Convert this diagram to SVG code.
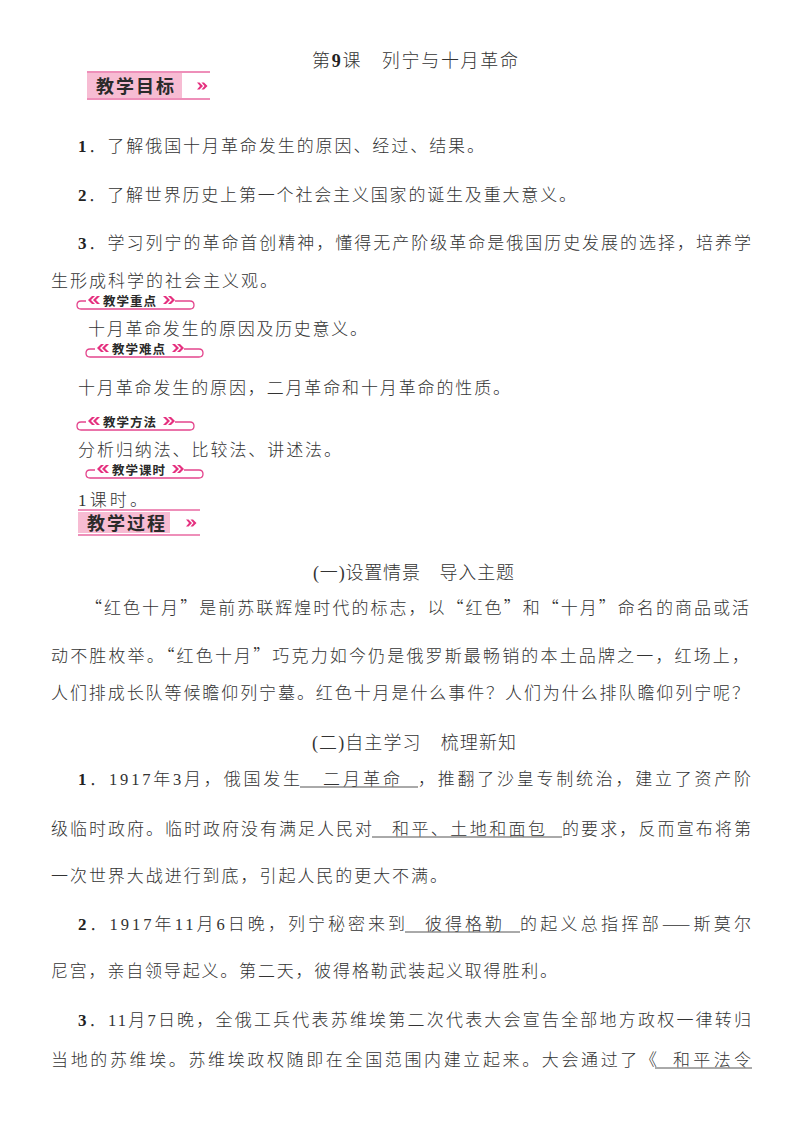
<svg xmlns="http://www.w3.org/2000/svg" xmlns:xlink="http://www.w3.org/1999/xlink" width="800" height="1133" viewBox="0 0 800 1133">
<style>
.t{font-family:"Noto Sans CJK SC","Noto Sans CJK JP",sans-serif;font-size:17px;fill:#333;font-weight:300}
.h{font-size:18px}
.n{font-family:"Liberation Serif",serif;font-size:16.5px}
.b{font-family:"Liberation Serif",serif;font-size:17px;font-weight:bold;fill:#222}
.bt{font-family:"Noto Sans CJK SC",sans-serif;font-weight:700;fill:#2a2a2a}
.big{font-size:18px;letter-spacing:2px}
.sm{font-size:12.5px;letter-spacing:1px}
.pk{fill:#f7bcd3}
.pl{stroke:#ee8fb9;stroke-width:1.8;fill:none}
.ar{fill:#e5307f}
.br{stroke:#e4468d;stroke-width:1.3;fill:none}
.ul{stroke:#555;stroke-width:1}
</style>
<defs>
<path id="chevL" d="M7 -4 L4 -4 L0 0 L4 4 L7 4 L3 0 Z M12 -4 L9 -4 L5 0 L9 4 L12 4 L8 0 Z"/>
<path id="chevR" d="M0 -4 L3 -4 L7 0 L3 4 L0 4 L4 0 Z M5 -4 L8 -4 L12 0 L8 4 L5 4 L9 0 Z"/>
<path id="chevS" d="M0 -3.5 L2.5 -3.5 L6 0 L2.5 3.5 L0 3.5 L3 0 Z M4.5 -3.5 L7 -3.5 L10.5 0 L7 3.5 L4.5 3.5 L7.5 0 Z"/>
<path id="brk" d="M8 1 L3 1 Q-1 1 -1 5 Q-1 9 3 9 L112 9 Q116 9 116 5 Q116 1 112 1 L97 1"/>
</defs>
<rect width="800" height="1133" fill="#fff"/>

<g id="title">
<text class="t h" x="312" y="67" textLength="206" lengthAdjust="spacing">第<tspan class="b" style="font-size:18px">9</tspan>课　列宁与十月革命</text>
</g>

<g id="badge-goal">
<rect class="pk" x="87" y="73" width="95" height="25"/>
<line class="pl" x1="87" y1="72" x2="210" y2="72"/>
<line class="pl" x1="87" y1="99" x2="210" y2="99"/>
<text class="bt big" x="96" y="93">教学目标</text>
<use xlink:href="#chevS" class="ar" x="197" y="86"/>
</g>

<g id="goals">
<text class="t" x="78" y="152" textLength="406" lengthAdjust="spacing"><tspan class="b">1</tspan>．了解俄国十月革命发生的原因、经过、结果。</text>
<text class="t" x="78" y="201" textLength="498" lengthAdjust="spacing"><tspan class="b">2</tspan>．了解世界历史上第一个社会主义国家的诞生及重大意义。</text>
<text class="t" x="78" y="249" textLength="673" lengthAdjust="spacing"><tspan class="b">3</tspan>．学习列宁的革命首创精神，懂得无产阶级革命是俄国历史发展的选择，培养学</text>
<text class="t" x="51" y="287" textLength="226" lengthAdjust="spacing">生形成科学的社会主义观。</text>
</g>

<g id="badge-key">
<use xlink:href="#brk" class="br" x="78" y="300"/>
<use xlink:href="#chevL" class="ar" x="88" y="300"/>
<text class="bt sm" x="103" y="306">教学重点</text>
<use xlink:href="#chevR" class="ar" x="163" y="300"/>
</g>
<text class="t" x="88" y="335" textLength="279" lengthAdjust="spacing">十月革命发生的原因及历史意义。</text>

<g id="badge-diff">
<use xlink:href="#brk" class="br" x="87" y="348"/>
<use xlink:href="#chevL" class="ar" x="97" y="348"/>
<text class="bt sm" x="112" y="353.5">教学难点</text>
<use xlink:href="#chevR" class="ar" x="172" y="348"/>
</g>
<text class="t" x="78" y="394" textLength="432" lengthAdjust="spacing">十月革命发生的原因，二月革命和十月革命的性质。</text>

<g id="badge-method">
<use xlink:href="#brk" class="br" x="78" y="421"/>
<use xlink:href="#chevL" class="ar" x="88" y="421"/>
<text class="bt sm" x="103" y="426.5">教学方法</text>
<use xlink:href="#chevR" class="ar" x="163" y="421"/>
</g>
<text class="t" x="78" y="456" textLength="263" lengthAdjust="spacing">分析归纳法、比较法、讲述法。</text>

<g id="badge-hours">
<use xlink:href="#brk" class="br" x="87" y="469"/>
<use xlink:href="#chevL" class="ar" x="97" y="469"/>
<text class="bt sm" x="112" y="474.5">教学课时</text>
<use xlink:href="#chevR" class="ar" x="172" y="469"/>
</g>
<text class="t" x="78" y="506" textLength="69" lengthAdjust="spacing"><tspan class="n" style="font-size:17px">1</tspan>课时。</text>

<g id="badge-process">
<rect class="pk" x="78" y="512" width="92" height="21"/>
<line class="pl" x1="78" y1="510" x2="200" y2="510"/>
<line class="pl" x1="78" y1="535" x2="200" y2="535"/>
<text class="bt big" x="87" y="530">教学过程</text>
<use xlink:href="#chevS" class="ar" x="186" y="523"/>
</g>

<g id="part1">
<text class="t h" x="313" y="579" textLength="201" lengthAdjust="spacing"><tspan class="n" style="font-size:18px">(</tspan>一<tspan class="n" style="font-size:18px">)</tspan>设置情景　导入主题</text>
<text class="t" x="85" y="614" textLength="664" lengthAdjust="spacing">“红色十月”是前苏联辉煌时代的标志，以“红色”和“十月”命名的商品或活</text>
<text class="t" x="51" y="662" textLength="698" lengthAdjust="spacing">动不胜枚举。“红色十月”巧克力如今仍是俄罗斯最畅销的本土品牌之一，红场上，</text>
<text class="t" x="51" y="699" textLength="698" lengthAdjust="spacing">人们排成长队等候瞻仰列宁墓。红色十月是什么事件？人们为什么排队瞻仰列宁呢？</text>
</g>

<g id="part2">
<text class="t h" x="312" y="749" textLength="204" lengthAdjust="spacing"><tspan class="n" style="font-size:18px">(</tspan>二<tspan class="n" style="font-size:18px">)</tspan>自主学习　梳理新知</text>

<text class="t" x="78" y="785" textLength="222" lengthAdjust="spacing"><tspan class="b">1</tspan>．<tspan class="n">1917</tspan>年<tspan class="n">3</tspan>月，俄国发生</text>
<text class="t" x="323" y="785" textLength="77" lengthAdjust="spacing">二月革命</text>
<text class="t" x="418" y="785" textLength="333" lengthAdjust="spacing">，推翻了沙皇专制统治，建立了资产阶</text>

<text class="t" x="51" y="835" textLength="321" lengthAdjust="spacing">级临时政府。临时政府没有满足人民对</text>
<text class="t" x="392" y="835" textLength="153" lengthAdjust="spacing">和平、土地和面包</text>
<text class="t" x="562" y="835" textLength="189" lengthAdjust="spacing">的要求，反而宣布将第</text>

<text class="t" x="51" y="882" textLength="396" lengthAdjust="spacing">一次世界大战进行到底，引起人民的更大不满。</text>

<text class="t" x="78" y="930" textLength="327" lengthAdjust="spacing"><tspan class="b">2</tspan>．<tspan class="n">1917</tspan>年<tspan class="n">11</tspan>月<tspan class="n">6</tspan>日晚，列宁秘密来到</text>
<text class="t" x="425" y="930" textLength="77" lengthAdjust="spacing">彼得格勒</text>
<text class="t" x="520" y="930" textLength="231" lengthAdjust="spacing">的起义总指挥部——斯莫尔</text>

<text class="t" x="51" y="977" textLength="506" lengthAdjust="spacing">尼宫，亲自领导起义。第二天，彼得格勒武装起义取得胜利。</text>

<text class="t" x="78" y="1026" textLength="673" lengthAdjust="spacing"><tspan class="b">3</tspan>．<tspan class="n">11</tspan>月<tspan class="n">7</tspan>日晚，全俄工兵代表苏维埃第二次代表大会宣告全部地方政权一律转归</text>
<text class="t" x="51" y="1066" textLength="606" lengthAdjust="spacing">当地的苏维埃。苏维埃政权随即在全国范围内建立起来。大会通过了《</text>
<text class="t" x="673" y="1066" textLength="78" lengthAdjust="spacing">和平法令</text>
</g>

<g id="connectors">
<line class="ul" x1="300" y1="787" x2="418" y2="787"/>
<line class="ul" x1="372" y1="837" x2="562" y2="837"/>
<line class="ul" x1="405" y1="932" x2="520" y2="932"/>
<line class="ul" x1="655" y1="1068" x2="752" y2="1068"/>
</g>
</svg>
